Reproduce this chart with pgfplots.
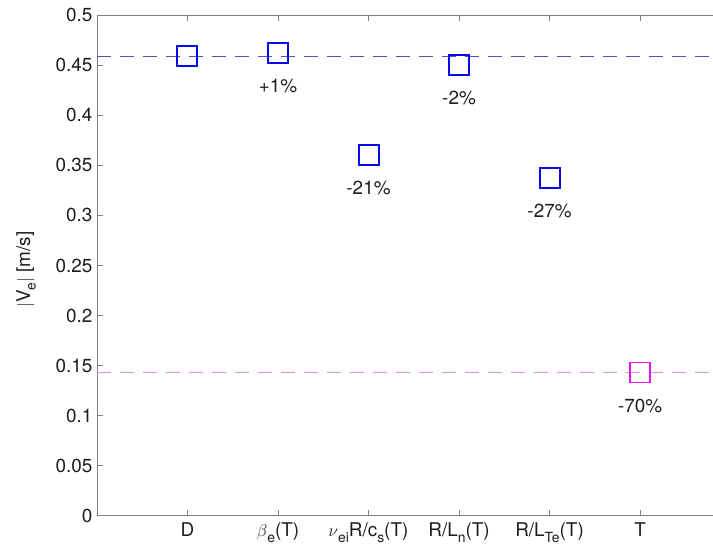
\documentclass[border=0pt]{standalone}
\usepackage{pgfplots}
\pgfplotsset{compat=1.18}
\usepackage{fontspec}
\setmainfont{TeX Gyre Heros}

\definecolor{axgray}{RGB}{128,128,128}
\definecolor{txt}{RGB}{30,30,30}
\definecolor{mblue}{RGB}{10,10,235}
\definecolor{lblue}{RGB}{80,80,200}
\definecolor{mmag}{RGB}{230,20,230}
\definecolor{lmag}{RGB}{225,140,225}

% lowered subscript, as in the plotting program's tex interpreter
\newcommand\sub[1]{\raisebox{-0.55ex}{\fontsize{14}{14}\selectfont #1}}
\newcommand\lbl{\fontsize{19}{22}\selectfont}

\begin{document}
\begin{tikzpicture}
\begin{axis}[
  name=ax,
  scale only axis,
  width=616bp, height=500.7bp,
  xmin=0, xmax=6.8,
  ymin=0, ymax=0.5,
  axis x line*=box,
  axis y line*=left,
  axis line style={axgray, line width=0.8pt},
  tick style={axgray, line width=0.8pt},
  tick align=inside,
  major tick length=6bp,
  xtick={1,2,3,4,5,6},
  xticklabels={D,{$\beta$\sub{e}(T)},{$\nu$\sub{ei}R/c\sub{s}(T)},{R/L\sub{n}(T)},{R/L\sub{Te}(T)},T},
  ytick={0,0.05,...,0.5},
  yticklabel style={/pgf/number format/fixed, /pgf/number format/precision=2},
  /pgf/number format/assume math mode=true,
  tick label style={font=\lbl, text=txt},
  xticklabel style={yshift=-4bp},
  yticklabel style={xshift=-1bp},
  ylabel={$|$V\sub{e}$|$ [m/s]},
  ylabel style={font=\lbl, text=txt, yshift=13bp, xshift=-4bp},
  clip=false,
]
% reference levels
\addplot[lblue, line width=1pt, dash pattern=on 14bp off 9bp] coordinates {(0,0.459) (6.8,0.459)};
\addplot[lmag, line width=1pt, dash pattern=on 14bp off 9bp] coordinates {(0,0.143) (6.8,0.143)};

% scan points with relative change labels
\addplot[only marks, mark=square, mark size=10bp, mblue, line width=2bp,
  point meta=explicit symbolic,
  nodes near coords,
  every node near coord/.style={anchor=center, yshift=-33bp, text=txt, font=\lbl}]
  coordinates {
    (1,0.4597) []
    (2,0.462) [+1\%]
    (3,0.3605) [-21\%]
    (4,0.4504) [-2\%]
    (5,0.3372) [-27\%]
  };
\addplot[only marks, mark=square, mark size=10bp, mmag, line width=1.6bp,
  point meta=explicit symbolic,
  nodes near coords,
  every node near coord/.style={anchor=center, yshift=-33bp, text=txt, font=\lbl}]
  coordinates {(6,0.143) [-70\%]};
\end{axis}
\useasboundingbox ([xshift=-97bp,yshift=-39bp]ax.south west) rectangle ([yshift=15.3bp]ax.north east);
\end{tikzpicture}
\end{document}
